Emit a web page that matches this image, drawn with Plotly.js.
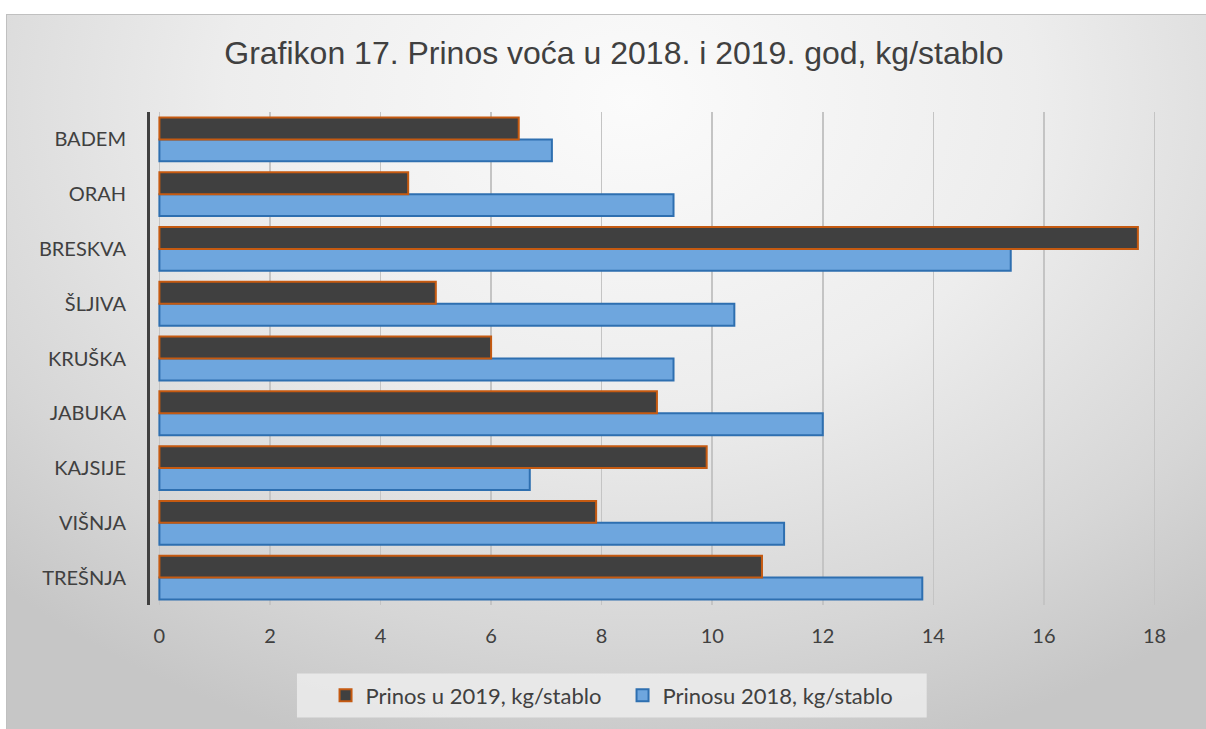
<!DOCTYPE html>
<html>
<head>
<meta charset="utf-8">
<script src="https://cdn.plot.ly/plotly-3.0.1.min.js"></script>
<style>
  html, body { margin: 0; padding: 0; background: #ffffff; }
  #bg { position: absolute; left: 6px; top: 14px; width: 1200px; height: 715px;
        border-left: 1px solid #c0c0c0; border-top: 1px solid #c0c0c0; box-sizing: border-box;
        background: radial-gradient(ellipse 75% 95% at 52% 12%, #fbfbfb 0%, #ededed 45%, #d6d6d6 80%, #c6c6c6 100%); }
  #chart { position: absolute; left: 0; top: 0; width: 1206px; height: 729px; }
</style>
</head>
<body>
<div id="bg"></div>
<div id="chart"></div>
<script>
// Categories (top to bottom as displayed)
const categories = ["BADEM", "ORAH", "BRESKVA", "ŠLJIVA", "KRUŠKA", "JABUKA", "KAJSIJE", "VIŠNJA", "TREŠNJA"];
// Yield 2019, kg/tree
const yield2019 = [6.5, 4.5, 17.7, 5.0, 6.0, 9.0, 9.9, 7.9, 10.9];
// Yield 2018, kg/tree
const yield2018 = [7.1, 9.3, 15.4, 10.4, 9.3, 12.0, 6.7, 11.3, 13.8];
const xTicks = [0, 2, 4, 6, 8, 10, 12, 14, 16, 18];
const name2019 = "Prinos u 2019, kg/stablo";
const name2018 = "Prinosu 2018, kg/stablo";
const titleText = "Grafikon 17. Prinos voća u 2018. i 2019. god, kg/stablo";

const font = "Lato, Open Sans, sans-serif";

const traces = [
  {
    type: "bar", orientation: "h", name: name2018,
    y: categories, x: yield2018,
    marker: { color: "#6ea6de", line: { color: "#2e6fb0", width: 2 } },
    legendrank: 2, hoverinfo: "x+name"
  },
  {
    type: "bar", orientation: "h", name: name2019,
    y: categories, x: yield2019,
    marker: { color: "#404040", line: { color: "#c55a11", width: 2 } },
    legendrank: 1, hoverinfo: "x+name"
  }
];

const layout = {
  width: 1206, height: 729,
  paper_bgcolor: "rgba(0,0,0,0)",
  plot_bgcolor: "rgba(0,0,0,0)",
  margin: { l: 150, r: 46, t: 112, b: 122 },
  title: {
    text: titleText,
    font: { family: "Liberation Sans, Arial, sans-serif", size: 32, color: "#404040" },
    x: 0.509, xanchor: "center", y: 0.928, yanchor: "middle"
  },
  barmode: "group",
  bargap: 0.2,
  bargroupgap: 0,
  showlegend: true,
  legend: {
    orientation: "h", x: 0.1738, xanchor: "left", y: -0.1835, yanchor: "middle",
    bgcolor: "rgba(0,0,0,0)",
    font: { family: font, size: 22, color: "#404040" },
    itemwidth: 30,
    entrywidth: 252
  },
  shapes: [
    { type: "rect", xref: "paper", yref: "paper", x0: 0.1455, x1: 0.769, y0: -0.228, y1: -0.139,
      fillcolor: "rgba(236,236,236,0.85)", line: { width: 0 }, layer: "below" }
  ],
  xaxis: {
    range: [-0.17, 18.1],
    tickvals: xTicks,
    ticktext: xTicks.map(String),
    showgrid: true, gridcolor: "#c4c4c4", gridwidth: 1.5,
    zeroline: false, showline: false, ticks: "",
    ticklabelstandoff: 17,
    tickfont: { family: font, size: 20, color: "#404040" },
    fixedrange: true
  },
  yaxis: {
    type: "category",
    categoryorder: "array",
    categoryarray: categories.slice().reverse(),
    showgrid: false, zeroline: false,
    showline: true, linecolor: "#404040", linewidth: 3,
    ticks: "", ticklabelstandoff: 17,
    tickfont: { family: font, size: 20, color: "#404040" },
    fixedrange: true
  }
};

Plotly.newPlot("chart", traces, layout, { displayModeBar: false, staticPlot: true });
</script>
</body>
</html>
